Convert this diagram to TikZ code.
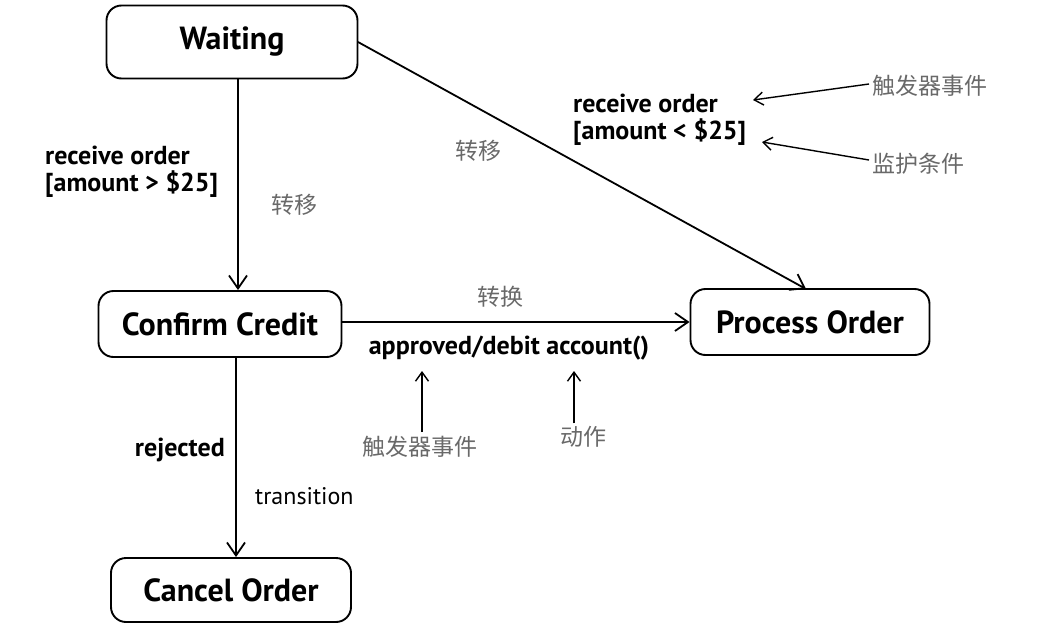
\documentclass[tikz,border=0pt]{standalone}
\usepackage{fontspec}
\setmainfont{PT Sans}
\newfontfamily\cjk{Noto Sans CJK SC}
\usetikzlibrary{arrows.meta}
\definecolor{cngray}{RGB}{105,105,105}
\begin{document}
\begin{tikzpicture}[x=1pt,y=-1pt,
 state/.style={draw, line width=1.9pt, rounded corners=15pt, inner sep=0pt,
   font=\fontsize{32}{36}\selectfont\bfseries},
 lbl/.style={font=\fontsize{24}{26}\selectfont, align=left, inner sep=0pt},
 lblb/.style={lbl, font=\fontsize{26}{27}\selectfont\bfseries},
 cn/.style={font=\cjk\fontsize{23}{25}\selectfont, text=cngray, inner sep=0pt},
 tr/.style={line width=1.8pt, -{Straight Barb[length=13pt, width=18pt, line width=1.8pt]}},
 note/.style={line width=1.4pt, -{Straight Barb[length=9pt, width=13pt, line width=1.4pt]}}
]
\useasboundingbox (0,0) rectangle (1039,635);
% states
\node[state, minimum width=251pt, minimum height=73pt] (wait) at (232,42) {Waiting};
\node[state, minimum width=243pt, minimum height=66pt] (conf) at (220,324) {Confirm Credit};
\node[state, minimum width=239pt, minimum height=66pt] (proc) at (810,322) {Process Order};
\node[state, minimum width=240pt, minimum height=64pt] (canc) at (231,590) {Cancel Order};
% transitions
\draw[tr] (wait.south -| 238,0) -- (conf.north -| 238,0);
\draw[tr] (conf.south -| 236,0) -- (canc.north -| 236,0);
\draw[tr] (conf.east |- 0,322) -- (proc.west |- 0,322);
\coordinate (wout) at (358,42);
\coordinate (pin) at (806,289);
\draw[tr] (wout) -- (pin);
% labels
\node[lblb, anchor=west] (ro1) at (45,172) {receive order\\{}[amount > \$25]};
\node[cn] (zy1) at (294,205) {转移};
\node[cn] (zy2) at (478,151) {转移};
\node[lblb, anchor=west] (ro2) at (573,120) {receive order\\{}[amount < \$25]};
\node[cn, anchor=west] (cf1) at (872,86) {触发器事件};
\node[cn, anchor=west] (jh) at (872,164) {监护条件};
\coordinate (ro2a) at (753,100);
\coordinate (ro2b) at (762,142);
\draw[note] (cf1.west) ++(-3,-2) coordinate (cf1s) -- (ro2a);
\draw[note] (jh.west) ++(-3,-4) coordinate (jhs) -- (ro2b);
\node[cn] (zh) at (500,297) {转换};
\node[lblb] (appr) at (509,348) {approved/debit account()};
\node[cn] (cf2) at (420,447) {触发器事件};
\node[cn] (dz) at (583,437) {动作};
\coordinate (a1) at (422,371);
\coordinate (a2) at (574,371);
\draw[note] (cf2.north -| a1) ++(0,-4) -- (a1);
\draw[note] (dz.north -| a2) ++(0,-3) -- (a2);
\node[lblb, anchor=east] (rej) at (225,450) {rejected};
\node[lbl, anchor=west] (trn) at (255,496) {transition};
\end{tikzpicture}
\end{document}
